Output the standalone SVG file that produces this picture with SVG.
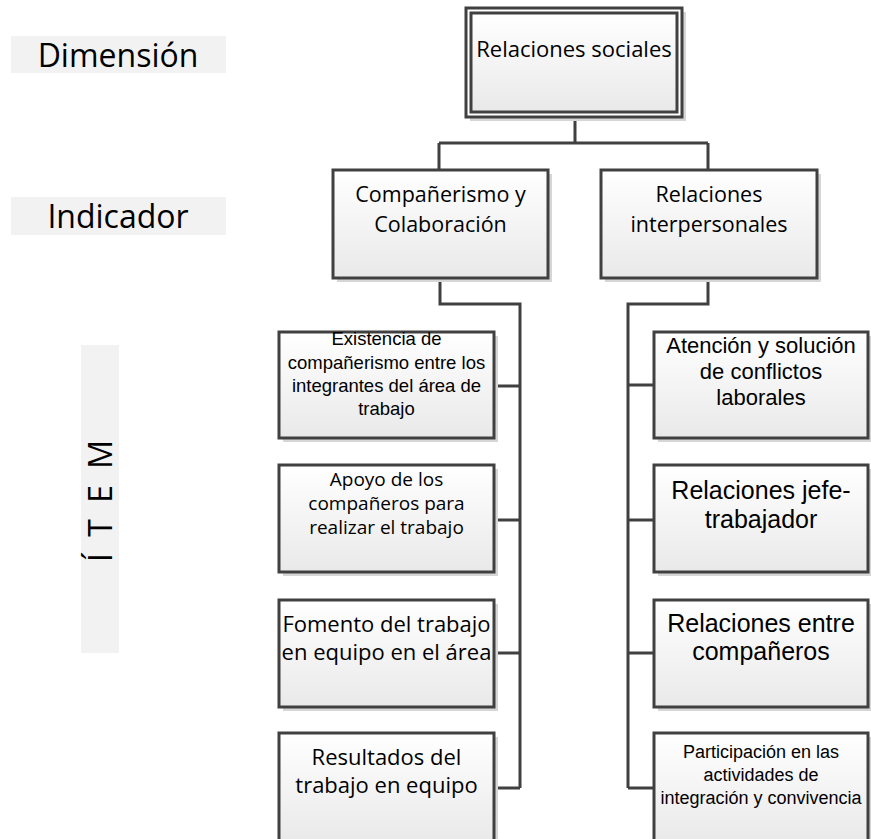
<svg xmlns="http://www.w3.org/2000/svg" width="871" height="839" viewBox="0 0 871 839">
<defs>
<linearGradient id="g" x1="0" y1="0" x2="0" y2="1">
<stop offset="0" stop-color="#ffffff"/>
<stop offset="1" stop-color="#e9e9e9"/>
</linearGradient>
<style>
.box{fill:url(#g);stroke:#404040;stroke-width:3}
.sh{fill:#d6d6d6}
.lbl{fill:#f2f2f2}
.c{fill:none;stroke:#404040;stroke-width:3}
.os{font-family:"Open Sans","DejaVu Sans",sans-serif;fill:#000;text-anchor:middle}
.ar{font-family:"Liberation Sans",Arial,sans-serif;fill:#000;text-anchor:middle}
</style>
</defs>
<rect width="871" height="839" fill="#ffffff"/>

<g id="label-dimension">
<rect class="lbl" x="11" y="36" width="215" height="37"/>
<text class="os" x="118" y="67" font-size="32">Dimensión</text>
</g>
<g id="label-indicador">
<rect class="lbl" x="11" y="197" width="215" height="38"/>
<text class="os" x="118" y="228" font-size="32">Indicador</text>
</g>
<g id="label-item">
<rect class="lbl" x="81" y="345" width="38" height="308"/>
<text class="os" transform="translate(112,562) rotate(-90)" x="0" y="0" font-size="32" letter-spacing="4" style="text-anchor:start">Í T E M</text>
</g>

<g id="connectors">
<path class="c" d="M575 117 V143 M439 143 H708 M439 143 V170 M708 143 V170"/>
<path class="c" d="M440 278 V304 H520 V788 M494 386 H520 M494 520 H520 M494 653 H520 M494 788 H520"/>
<path class="c" d="M708 278 V304 H628 V788 M628 385 H654 M628 520 H654 M628 653 H654 M628 788 H654"/>
</g>

<g id="node-relaciones-sociales">
<rect class="sh" x="470" y="12" width="216" height="109"/>
<rect x="466" y="8" width="216" height="109" fill="#ffffff" stroke="#404040" stroke-width="3"/>
<rect class="box" x="471" y="13" width="206" height="99"/>
<text class="os" x="574" y="57" font-size="22">Relaciones sociales</text>
</g>

<g id="node-companerismo">
<rect class="sh" x="337" y="174" width="215" height="108"/>
<rect class="box" x="333" y="170" width="215" height="108"/>
<text class="os" x="440.5" y="202" font-size="21.5">Compañerismo y</text>
<text class="os" x="440.5" y="232" font-size="21.5">Colaboración</text>
</g>

<g id="node-relaciones-interpersonales">
<rect class="sh" x="605" y="174" width="216" height="108"/>
<rect class="box" x="601" y="170" width="216" height="108"/>
<text class="os" x="709" y="202" font-size="21.5">Relaciones</text>
<text class="os" x="709" y="232" font-size="21.5">interpersonales</text>
</g>

<g id="item-l1">
<rect class="sh" x="283" y="336" width="215" height="106"/>
<rect class="box" x="279" y="332" width="215" height="106"/>
<text class="ar" x="386.5" y="345" font-size="18.5">Existencia de</text>
<text class="ar" x="386.5" y="369" font-size="18.5">compañerismo entre los</text>
<text class="ar" x="386.5" y="392" font-size="18.5">integrantes del área de</text>
<text class="ar" x="386.5" y="415" font-size="18.5">trabajo</text>
</g>
<g id="item-l2">
<rect class="sh" x="283" y="469" width="215" height="107"/>
<rect class="box" x="279" y="465" width="215" height="107"/>
<text class="os" x="386.5" y="486" font-size="19">Apoyo de los</text>
<text class="os" x="386.5" y="510" font-size="19">compañeros para</text>
<text class="os" x="386.5" y="534" font-size="19">realizar el trabajo</text>
</g>
<g id="item-l3">
<rect class="sh" x="283" y="604" width="215" height="107"/>
<rect class="box" x="279" y="600" width="215" height="107"/>
<text class="os" x="386.5" y="632" font-size="22">Fomento del trabajo</text>
<text class="os" x="386.5" y="660" font-size="22">en equipo en el área</text>
</g>
<g id="item-l4">
<rect class="sh" x="283" y="737" width="215" height="110"/>
<rect class="box" x="279" y="733" width="215" height="110"/>
<text class="os" x="386.5" y="765" font-size="22">Resultados del</text>
<text class="os" x="386.5" y="793" font-size="22">trabajo en equipo</text>
</g>

<g id="item-r1">
<rect class="sh" x="658" y="336" width="214" height="106"/>
<rect class="box" x="654" y="332" width="214" height="106"/>
<text class="ar" x="761" y="353" font-size="22">Atención y solución</text>
<text class="ar" x="761" y="379" font-size="22">de conflictos</text>
<text class="ar" x="761" y="405" font-size="22">laborales</text>
</g>
<g id="item-r2">
<rect class="sh" x="658" y="469" width="214" height="107"/>
<rect class="box" x="654" y="465" width="214" height="107"/>
<text class="ar" x="761" y="499" font-size="25">Relaciones jefe-</text>
<text class="ar" x="761" y="528" font-size="25">trabajador</text>
</g>
<g id="item-r3">
<rect class="sh" x="658" y="604" width="214" height="107"/>
<rect class="box" x="654" y="600" width="214" height="107"/>
<text class="ar" x="761" y="632" font-size="25">Relaciones entre</text>
<text class="ar" x="761" y="660" font-size="25">compañeros</text>
</g>
<g id="item-r4">
<rect class="sh" x="658" y="737" width="214" height="110"/>
<rect class="box" x="654" y="733" width="214" height="110"/>
<text class="ar" x="761" y="758" font-size="18">Participación en las</text>
<text class="ar" x="761" y="781" font-size="18">actividades de</text>
<text class="ar" x="761" y="804" font-size="18">integración y convivencia</text>
</g>
</svg>
